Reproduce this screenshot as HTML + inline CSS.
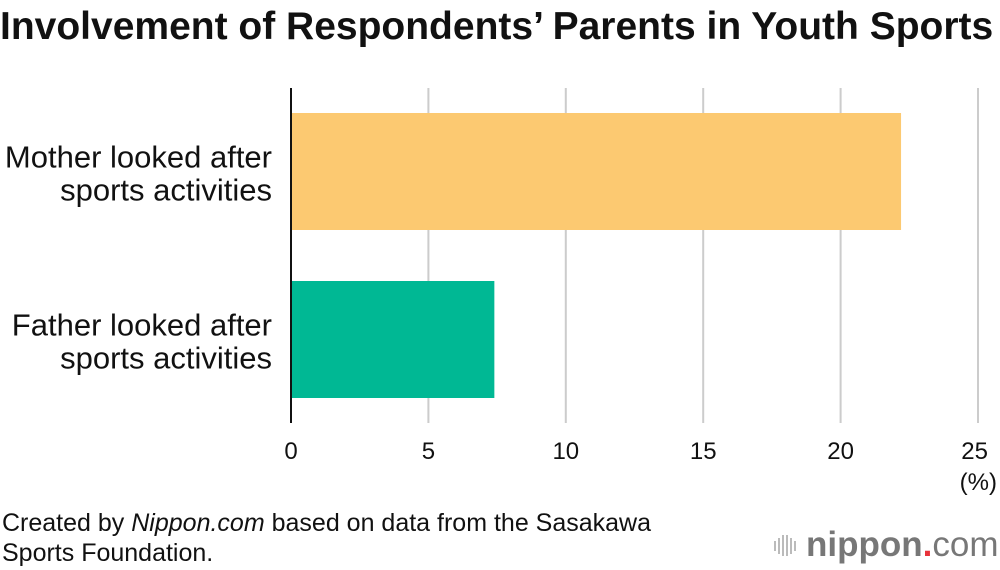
<!DOCTYPE html>
<html><head><meta charset="utf-8"><style>
body{margin:0;width:1000px;height:570px;background:#fff;font-family:"Liberation Sans",sans-serif;position:relative;overflow:hidden}
.t{position:absolute;white-space:nowrap;color:#111}
</style></head><body>
<div class="t" style="left:0;top:5px;font-size:39px;font-weight:bold;letter-spacing:0px">Involvement of Respondents’ Parents in Youth Sports</div>
<svg id="c" width="1000" height="500" style="position:absolute;left:0;top:0"></svg>
<div class="t" style="left:2px;top:508px;font-size:25px;line-height:30px">Created by <i>Nippon.com</i> based on data from the Sasakawa<br>Sports Foundation.</div>
<div style="position:absolute;left:772px;top:528px;display:flex;align-items:center">
<svg width="28" height="28"><g fill="#bbb"><rect x="2" y="10" width="2" height="10"/><rect x="6" y="7" width="2" height="16"/><rect x="10" y="4" width="2" height="21"/><rect x="14" y="4" width="2" height="21"/><rect x="18" y="7" width="2" height="16"/><rect x="22" y="10" width="2" height="10"/></g></svg>
<span style="font-size:35px;color:#777;font-weight:bold;margin-left:6px;line-height:34px">nippon<span style="color:#e8333a">.</span><span style="font-weight:normal">com</span></span>
</div>
<script>
const categories=["Mother looked after|sports activities","Father looked after|sports activities"];
const values=[22.2,7.4];
const colors=["#fcc971","#00b894"];
const ticks=[0,5,10,15,20,25];
const svg=document.getElementById('c'),NS="http://www.w3.org/2000/svg";
const x0=291,x1=978,xmax=25;
const xs=v=>x0+(x1-x0)*v/xmax;
function mk(t,a){const e=document.createElementNS(NS,t);for(const k in a)e.setAttribute(k,a[k]);svg.appendChild(e);return e;}
ticks.forEach(t=>{
 if(t>0){const g=mk('line',{x1:xs(t),x2:xs(t),y1:88,y2:423,stroke:'#ccc','stroke-width':2});
 
 }
 const l=mk('text',{x:xs(t),y:459,'text-anchor':t==25?'end':'middle','font-size':24,fill:'#111','font-family':'Liberation Sans'});
 if(t==25)l.setAttribute('x',xs(t)+10);
 l.textContent=t;
 
 
});
const u=mk('text',{x:997,y:490,'text-anchor':'end','font-size':24,fill:'#111','font-family':'Liberation Sans'});u.textContent='(%)';


const bandTop=88,band=168,bh=117;
categories.forEach((c,i)=>{
 const y=bandTop+i*band+25;
 const r=mk('rect',{x:x0,y:y,width:xs(values[i])-x0,height:bh,fill:colors[i]});
 
 
 c.split('|').forEach((s,j)=>{
  const t=mk('text',{x:272,y:y+bh/2-4+j*33,'text-anchor':'end','font-size':31,fill:'#111','font-family':'Liberation Sans'});
  t.textContent=s;
  
  
 });
});
const ax=mk('line',{x1:x0,x2:x0,y1:88,y2:423,stroke:'#111','stroke-width':2});


</script>
</body></html>
